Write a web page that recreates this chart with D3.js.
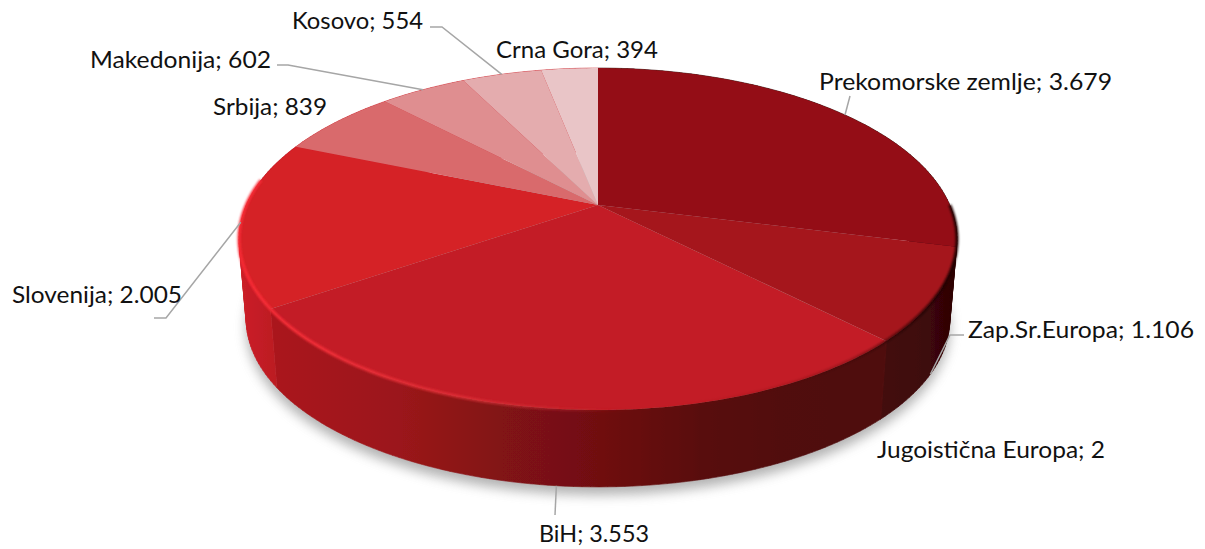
<!DOCTYPE html>
<html>
<head>
<meta charset="utf-8">
<script src="https://cdn.jsdelivr.net/npm/d3@7"></script>
<style>
  html, body { margin: 0; padding: 0; background: #fff; }
  svg { display: block; }
  text { font-family: Lato, "Open Sans", sans-serif; font-size: 24px; fill: #111; }
</style>
</head>
<body>
<svg id="chart" width="1205" height="549"></svg>
<script>
const categories = ["Prekomorske zemlje", "Zap.Sr.Europa", "Jugoistična Europa", "BiH", "Slovenija", "Srbija", "Makedonija", "Kosovo", "Crna Gora"]
const values = [3679, 1106, 2, 3553, 2005, 839, 602, 554, 394]
const value_labels = ["3.679", "1.106", "2", "3.553", "2.005", "839", "602", "554", "394"]

// slice colours
const top_colors = ["#941116", "#a5141c", "#b5181f", "#c31d25", "#d52027", "#d96a6c", "#df8e90", "#e4acae", "#e9c5c7"]

// label layout, same order as categories: text x, baseline y, text width, then the leader's bend
const label_layout = [
  {x: 819, y: 90, w: 293, bend: [[850, 96]]},
  {x: 968, y: 338, w: 226, bend: [[950, 335], [964, 335]]},
  {x: 877, y: 458, w: 228, bend: null},
  {x: 539, y: 542, w: 110, bend: [[555, 515]]},
  {x: 12, y: 303, w: 170, bend: [[166, 318], [154, 318]]},
  {x: 213, y: 115, w: 114, bend: null},
  {x: 90, y: 68, w: 181, bend: [[288, 65], [277, 65]]},
  {x: 292, y: 29, w: 131, bend: [[442, 27], [430, 27]]},
  {x: 496, y: 58, w: 162, bend: null}
]
// leaders that land on the lower rim of the side wall
const on_bottom_rim = [false, true, false, true, false, false, false, false, false]

// the pie is a tilted disc: centre, scale and perspective fitted to the picture
const cx = 598, cy = 205
const scale_x = 351.8, scale_y = 164.2, persp = -0.199
const depth = 81, bottom_scale = 0.98

function project(angle, bottom){
  let u = Math.sin(angle), v = -Math.cos(angle)
  let w = 1 + persp * v
  let s = bottom ? bottom_scale : 1
  return [cx + s * scale_x * u / w, cy + (bottom ? depth : 0) + s * scale_y * v / w]
}

function sample_angles(a0, a1){
  let n = Math.max(2, Math.ceil((a1 - a0) / 0.02))
  return d3.range(n + 1).map(i => a0 + (a1 - a0) * i / n)
}

const svg = d3.select("#chart")
const defs = svg.append("defs")

defs.append("filter").attr("id", "shadow_blur")
  .attr("x", "-10%").attr("y", "-20%").attr("width", "120%").attr("height", "140%")
  .append("feGaussianBlur").attr("stdDeviation", 6)
defs.append("filter").attr("id", "rim_blur")
  .attr("x", "-10%").attr("y", "-10%").attr("width", "120%").attr("height", "120%")
  .append("feGaussianBlur").attr("stdDeviation", 1.2)
defs.append("filter").attr("id", "soft")
  .attr("x", "-5%").attr("y", "-5%").attr("width", "110%").attr("height", "110%")
  .append("feGaussianBlur").attr("stdDeviation", 0.5)

// wall shading runs left to right, one gradient per slice
const wall_stops = {
  0: [[878, "#2e0405"], [958, "#2a0304"]],
  1: [[878, "#440809"], [930, "#3d0708"], [958, "#2a0304"]],
  2: [[870, "#4d0a0c"], [885, "#4d0a0c"]],
  3: [[275, "#aa171d"], [400, "#9b161a"], [500, "#821215"], [600, "#701011"], [700, "#590c0e"], [780, "#510b0d"], [880, "#4f0a0c"]],
  4: [[240, "#cc2028"], [275, "#bc1b23"]],
  5: [[240, "#cc2028"], [300, "#cc2028"]],
  6: [[240, "#cc2028"], [300, "#cc2028"]],
  7: [[240, "#cc2028"], [300, "#cc2028"]],
  8: [[240, "#cc2028"], [300, "#cc2028"]]
}
const line_path = d3.line()

function wall_gradient(i){
  let stops = wall_stops[i]
  let x0 = stops[0][0], x1 = stops[stops.length-1][0]
  let g = defs.append("linearGradient").attr("id", "wall_" + i)
    .attr("gradientUnits", "userSpaceOnUse")
    .attr("x1", x0).attr("x2", x1).attr("y1", 0).attr("y2", 0)
  stops.forEach(s => g.append("stop").attr("offset", (s[0] - x0) / (x1 - x0)).attr("stop-color", s[1]))
  return `url(#wall_${i})`
}

// each wall is a run of small quads wound the same way, so folds at the silhouette don't cancel out
function wall_path(d){
  let angles = sample_angles(d.startAngle, d.endAngle)
  return d3.pairs(angles).map(pair => {
    let quad = [project(pair[0], false), project(pair[1], false), project(pair[1], true), project(pair[0], true)]
    if(d3.polygonArea(quad) < 0) quad.reverse()
    return line_path(quad) + "Z"
  }).join("")
}

const arcs = d3.pie().sort(null).value(d => d).startAngle(0).endAngle(Math.PI * 2)(values)
const full_circle = sample_angles(0, Math.PI * 2)

// soft shadow under the disc
svg.append("path")
  .attr("d", line_path(full_circle.map(a => {
    let p = project(a, true)
    return [p[0], p[1] + 8]
  })) + "Z")
  .attr("fill", "#808080")
  .attr("opacity", 0.6)
  .attr("filter", "url(#shadow_blur)")

const pie_group = svg.append("g").attr("filter", "url(#soft)")

// side walls
pie_group.selectAll("path.wall").data(arcs).join("path")
  .attr("class", "wall")
  .attr("d", wall_path)
  .attr("fill", (d, i) => wall_gradient(i))
  .attr("stroke", (d, i) => `url(#wall_${i})`)
  .attr("stroke-width", 0.6)

// top surface
pie_group.selectAll("path.slice").data(arcs).join("path")
  .attr("class", "slice")
  .attr("d", d => line_path([[cx, cy]].concat(sample_angles(d.startAngle, d.endAngle).map(a => project(a, false)))) + "Z")
  .attr("fill", (d, i) => top_colors[i])

// bevel along the front rim: bright on the left, dark on the right
const rim_grad = defs.append("linearGradient").attr("id", "rim_grad")
  .attr("gradientUnits", "userSpaceOnUse")
  .attr("x1", 240).attr("x2", 958).attr("y1", 0).attr("y2", 0)
const rim_stops = [[0, "#fa2c36", 1], [0.1, "#f52e38", 1], [0.3, "#e6323a", 0.8], [0.42, "#d8343a", 0.45], [0.55, "#c01c22", 0], [0.85, "#300405", 0.3], [0.97, "#200203", 0.9], [1, "#200203", 1]]
rim_stops.forEach(s => rim_grad.append("stop").attr("offset", s[0]).attr("stop-color", s[1]).attr("stop-opacity", s[2]))

svg.append("path")
  .attr("d", line_path(sample_angles(Math.PI * 0.5, Math.PI * 1.55).map(a => project(a, false))))
  .attr("fill", "none")
  .attr("stroke", "url(#rim_grad)")
  .attr("stroke-width", 3)
  .attr("filter", "url(#rim_blur)")

// leaders
svg.selectAll("path.leader").data(arcs.filter((d, i) => label_layout[i].bend)).join("path")
  .attr("class", "leader")
  .attr("d", d => {
    let mid = (d.startAngle + d.endAngle) / 2
    return line_path([project(mid, on_bottom_rim[d.index])].concat(label_layout[d.index].bend))
  })
  .attr("fill", "none")
  .attr("stroke", "#a6a6a6")
  .attr("stroke-width", 1.5)

// labels
svg.selectAll("text.label").data(categories).join("text")
  .attr("class", "label")
  .attr("x", (d, i) => label_layout[i].x)
  .attr("y", (d, i) => label_layout[i].y)
  .attr("textLength", (d, i) => label_layout[i].w)
  .attr("lengthAdjust", "spacingAndGlyphs")
  .text((d, i) => `${d}; ${value_labels[i]}`)
</script>
</body>
</html>
